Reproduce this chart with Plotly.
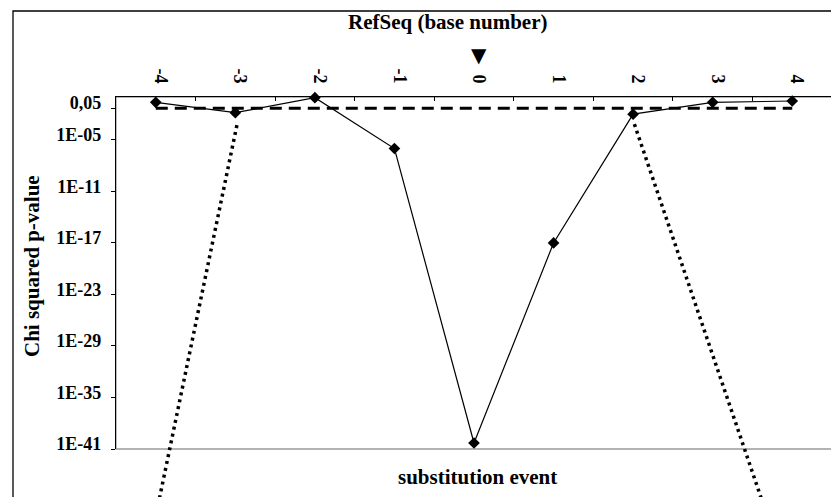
import plotly.graph_objects as go

# ---- data ----
categories = ["-4", "-3", "-2", "-1", "0", "1", "2", "3", "4"]
p_values = [0.24, 0.015, 0.83, 1e-6, 5e-41, 1e-17, 0.01, 0.24, 0.34]
threshold = 0.05
threshold_values = [threshold] * len(categories)
ytick_vals = [0.05, 1e-5, 1e-11, 1e-17, 1e-23, 1e-29, 1e-35, 1e-41]
ytick_text = ["0,05", "1E-05", "1E-11", "1E-17", "1E-23", "1E-29", "1E-35", "1E-41"]
# dotted pointer lines: (x0 category index, y0 paper, x1 category index, y1 paper)
pointer_left = (1.02, 0.92, 0.016, -0.173)
pointer_right = (6.016, 0.923, 7.66, -0.173)

FONT = "Liberation Serif"
OFF = 8  # default page body margin
W, H = 839 - OFF, 497 - OFF
L, T = 116 - OFF, 97 - OFF
R = W - (832 - OFF)
B = H - (449 - OFF)
pw = W - L - R
ph = H - T - B


def px(xpage):
    return (xpage - OFF - L) / pw


def py(ypage):
    return (H - B - (ypage - OFF)) / ph


fig = go.Figure()
fig.add_trace(go.Scatter(
    x=categories, y=threshold_values, mode="lines",
    line=dict(color="black", width=3, dash="12px,7px"),
    hoverinfo="skip", showlegend=False))
fig.add_trace(go.Scatter(
    x=categories, y=p_values, mode="lines+markers",
    line=dict(color="black", width=1.2),
    marker=dict(symbol="diamond", size=9, color="black"),
    showlegend=False, cliponaxis=False))

shapes = [
    # plot-area border (grey)
    dict(type="rect", xref="paper", yref="paper", x0=0, x1=1, y0=0, y1=1,
         line=dict(color="#9a9a9a", width=1.3), layer="below"),
    # outer chart border
    dict(type="rect", xref="paper", yref="paper",
         x0=px(13), x1=1.2, y0=-0.4, y1=py(11),
         line=dict(color="black", width=1.3), layer="below"),
]
for (x0, y0, x1, y1) in (pointer_left, pointer_right):
    shapes.append(dict(type="line", xref="x", yref="paper", x0=x0, y0=y0, x1=x1, y1=y1,
                       line=dict(color="black", width=3.5, dash="3px,4px")))

annotations = [
    dict(text="<b>RefSeq (base number)</b>", xref="paper", yref="paper",
         x=px(448), y=py(22), showarrow=False,
         font=dict(family=FONT, size=21, color="black"), xanchor="center", yanchor="middle"),
    dict(text="▼", xref="x", yref="paper", x=4, xshift=5,
         y=py(55), showarrow=False,
         font=dict(family="DejaVu Sans", size=20, color="black"), xanchor="center", yanchor="middle"),
    dict(text="<b>substitution event</b>", xref="paper", yref="paper",
         x=px(477), y=py(477), showarrow=False,
         font=dict(family=FONT, size=21, color="black"), xanchor="center", yanchor="middle"),
    dict(text="<b>Chi squared p-value</b>", xref="paper", yref="paper", textangle=-90,
         x=px(32), y=py(266), showarrow=False,
         font=dict(family=FONT, size=21, color="black"), xanchor="center", yanchor="middle"),
]

fig.update_layout(
    width=W, height=H,
    margin=dict(l=L, r=R, t=T, b=B, pad=0),
    paper_bgcolor="white", plot_bgcolor="white",
    showlegend=False,
    shapes=shapes, annotations=annotations,
    xaxis=dict(type="category", side="top", categoryorder="array", categoryarray=categories,
               range=[-0.5, len(categories) - 0.5],
               tickson="boundaries", ticks="inside", ticklen=4, tickcolor="black",
               showline=True, linecolor="black", linewidth=1.3,
               showgrid=False, zeroline=False,
               tickangle=90, ticklabelshift=5, ticklabelstandoff=6,
               tickfont=dict(family=FONT, size=18, color="black", weight="bold")),
    yaxis=dict(type="log", range=[-41, 0],
               tickvals=ytick_vals, ticktext=ytick_text,
               ticks="outside", ticklen=4, tickcolor="black",
               showline=True, linecolor="black", linewidth=1.3,
               showgrid=False, zeroline=False,
               ticklabelshift=-5, ticklabelstandoff=6,
               tickfont=dict(family=FONT, size=18, color="black", weight="bold")),
)

fig.write_html("out.html")
